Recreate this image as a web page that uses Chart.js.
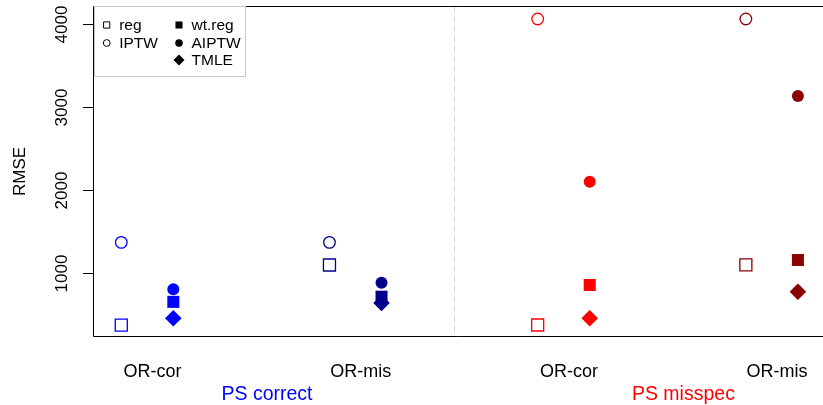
<!DOCTYPE html>
<html>
<head>
<meta charset="utf-8">
<title>RMSE by scenario</title>
<script src="https://cdn.jsdelivr.net/npm/chart.js@4.4.1/dist/chart.umd.min.js"></script>
<style>
  html, body { margin: 0; padding: 0; background: #fff; }
  #wrap { width: 823px; height: 405px; }
</style>
</head>
<body>
<div id="wrap"><canvas id="rmseChart" width="823" height="405"></canvas></div>
<script>
// scenarios sit at x = 1..4; open symbols drawn a bit left, filled ones a bit right
const scenarioLabels = ['OR-cor', 'OR-mis', 'OR-cor', 'OR-mis'];
const groupLabels = ['PS correct', 'PS misspec'];
const groupLabelColors = ['#0000FF', '#FF0000'];
const scenarioColors = ['#0000FF', '#00008B', '#FF0000', '#8B0000'];
const yTicks = [1000, 2000, 3000, 4000];

const regRMSE   = [375, 1100, 377, 1102];
const iptwRMSE  = [1373, 1373, 4064, 4064];
const wtregRMSE = [656, 718, 859, 1160];
const aiptwRMSE = [807, 887, 2104, 3136];
const tmleRMSE  = [458, 642, 458, 778];

const FONT = '"Liberation Sans", Arial, Helvetica, sans-serif';

function pts(values, shift) {
    return values.map((v, i) => ({ x: i + 1 + shift, y: v }));
}

function series(label, values, shift, style, radius, open) {
    return {
        label: label,
        data: pts(values, shift),
        pointStyle: style,
        pointRadius: radius,
        pointBorderWidth: open ? 1.3 : 0,
        pointBorderColor: scenarioColors,
        pointBackgroundColor: open ? 'rgba(0,0,0,0)' : scenarioColors,
        showLine: false
    };
}

// axes, box, separator and outer labels drawn R-style
const frame = {
    id: 'frame',
    beforeDatasetsDraw(chart) {
        const { ctx, chartArea: a, scales: { x, y } } = chart;
        ctx.save();

        // dashed separator between the two PS settings
        const xs = Math.round(x.getPixelForValue(2.45)) + 0.5;
        ctx.strokeStyle = '#D6D6D6';
        ctx.lineWidth = 1;
        ctx.setLineDash([6, 4]);
        ctx.beginPath();
        ctx.moveTo(xs, a.top);
        ctx.lineTo(xs, a.bottom);
        ctx.stroke();
        ctx.setLineDash([]);

        // plot box (right side falls off the canvas)
        ctx.strokeStyle = '#000';
        ctx.beginPath();
        ctx.moveTo(a.right, a.top + 0.5);
        ctx.lineTo(a.left + 0.5, a.top + 0.5);
        ctx.lineTo(a.left + 0.5, a.bottom - 0.5);
        ctx.lineTo(a.right, a.bottom - 0.5);
        ctx.stroke();

        // y ticks with rotated labels
        ctx.fillStyle = '#000';
        ctx.font = '17px ' + FONT;
        ctx.textAlign = 'center';
        ctx.textBaseline = 'middle';
        yTicks.forEach(t => {
            const py = Math.round(y.getPixelForValue(t)) + 0.5;
            ctx.beginPath();
            ctx.moveTo(a.left - 10, py);
            ctx.lineTo(a.left + 0.5, py);
            ctx.stroke();
            ctx.save();
            ctx.translate(61.5, py);
            ctx.rotate(-Math.PI / 2);
            ctx.fillText(String(t), 0, 1);
            ctx.restore();
        });

        // y title
        ctx.save();
        ctx.translate(19, (a.top + a.bottom) / 2);
        ctx.rotate(-Math.PI / 2);
        ctx.fillText('RMSE', 0, 1);
        ctx.restore();

        // scenario labels under the axis
        ctx.textBaseline = 'alphabetic';
        ctx.font = '18px ' + FONT;
        scenarioLabels.forEach((lab, i) => {
            ctx.fillText(lab, x.getPixelForValue(i + 1), 377);
        });

        // PS group labels
        ctx.font = '19.5px ' + FONT;
        groupLabels.forEach((lab, i) => {
            ctx.fillStyle = groupLabelColors[i];
            ctx.fillText(lab, x.getPixelForValue(1.55 + 2 * i), 400);
        });

        ctx.restore();
    },
    afterDatasetsDraw(chart) {
        const { ctx } = chart;
        const ds = chart.data.datasets;
        ctx.save();
        ctx.fillStyle = '#fff';
        ctx.fillRect(94, 7, 151, 69);
        ctx.strokeStyle = '#C8C8C8';
        ctx.lineWidth = 1;
        ctx.strokeRect(94.5, 6.5, 151, 70);

        const items = [
            { d: ds[0], x: 106.7, y: 25, r: 4.4, open: true },
            { d: ds[1], x: 106.7, y: 43, r: 3.4, open: true },
            { d: ds[2], x: 179, y: 25, r: 5, open: false },
            { d: ds[3], x: 179, y: 43, r: 3.8, open: false },
            { d: ds[4], x: 179, y: 60, r: 5.5, open: false }
        ];
        ctx.font = '15.5px ' + FONT;
        ctx.textAlign = 'left';
        ctx.textBaseline = 'middle';
        items.forEach(it => {
            ctx.fillStyle = '#000';
            ctx.strokeStyle = '#000';
            if (it.open) ctx.fillStyle = 'rgba(0,0,0,0)';
            Chart.helpers.drawPoint(ctx, {
                pointStyle: it.d.pointStyle,
                radius: it.r,
                rotation: 0,
                borderWidth: it.open ? 1.1 : 0
            }, it.x, it.y);
            ctx.fillStyle = '#000';
            ctx.fillText(it.d.label, it.x + 12.5, it.y + 1);
        });
        ctx.restore();
    }
};

const ctxRmse = document.getElementById('rmseChart').getContext('2d');
new Chart(ctxRmse, {
    type: 'scatter',
    data: {
        datasets: [
            series('reg', regRMSE, -0.15, 'rect', 8.5, true),
            series('IPTW', iptwRMSE, -0.15, 'circle', 5.8, true),
            series('wt.reg', wtregRMSE, 0.1, 'rect', 8.5, false),
            series('AIPTW', aiptwRMSE, 0.1, 'circle', 6, false),
            series('TMLE', tmleRMSE, 0.1, 'rectRot', 8.3, false)
        ]
    },
    options: {
        responsive: false,
        animation: false,
        devicePixelRatio: 1,
        layout: { autoPadding: false, padding: { left: 93, top: 6, right: 0, bottom: 68 } },
        plugins: {
            legend: { display: false },
            tooltip: { enabled: false }
        },
        scales: {
            x: { type: 'linear', min: 0.7142, max: 4.2205, display: false },
            y: { type: 'linear', min: 232.5, max: 4220, display: false }
        }
    },
    plugins: [frame]
});
</script>
</body>
</html>
